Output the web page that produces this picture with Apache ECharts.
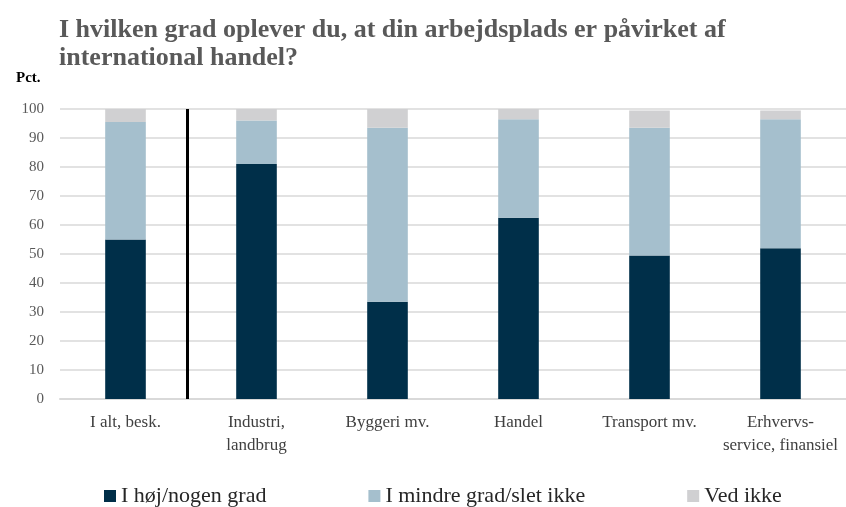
<!DOCTYPE html>
<html>
<head>
<meta charset="utf-8">
<script src="https://cdn.jsdelivr.net/npm/echarts@6/dist/echarts.min.js"></script>
<style>
  html, body { margin: 0; padding: 0; background: #fff; }
  #chart { width: 846px; height: 507px; }
</style>
</head>
<body>
<div id="chart"></div>
<script>
  const categories = ['I alt, besk.', 'Industri,\nlandbrug', 'Byggeri mv.', 'Handel', 'Transport mv.', 'Erhvervs-\nservice, finansiel']
  const hoej = [55, 81, 33.5, 62.5, 49.5, 52]
  const mindre = [40.5, 15, 60, 34, 44, 44.5]
  const vedIkke = [4.5, 4, 6.5, 3.5, 6, 3]
  const yTicks = [0, 10, 20, 30, 40, 50, 60, 70, 80, 90, 100]

  const serif = '"Liberation Serif", "DejaVu Serif", serif'

  const chart = echarts.init(document.getElementById('chart'))
  chart.setOption({
    animation: false,
    title: [
      {
        text: 'I hvilken grad oplever du, at din arbejdsplads er påvirket af\ninternational handel?',
        left: 54,
        top: 11,
        textStyle: { fontFamily: serif, fontWeight: 'bold', fontSize: 26, color: '#595959', lineHeight: 28 }
      },
      {
        text: 'Pct.',
        left: 11,
        top: 66,
        textStyle: { fontFamily: serif, fontWeight: 'bold', fontSize: 15, color: '#000' }
      }
    ],
    legend: {
      top: 480,
      left: 99,
      itemWidth: 12,
      itemHeight: 12,
      itemGap: 102,
      icon: 'rect',
      textStyle: { fontFamily: serif, fontSize: 22, color: '#262626' },
      data: ['I høj/nogen grad', 'I mindre grad/slet ikke', 'Ved ikke']
    },
    grid: { left: 60, right: 0, top: 109, bottom: 108 },
    xAxis: [
      {
        type: 'category',
        data: categories,
        axisLine: { lineStyle: { color: '#d9d9d9', width: 2 } },
        axisTick: { show: false },
        axisLabel: { fontFamily: serif, fontSize: 17, color: '#404040', margin: 12, lineHeight: 23, interval: 0 }
      },
      { type: 'value', min: -0.5, max: categories.length - 0.5, show: false }
    ],
    yAxis: {
      type: 'value',
      min: yTicks[0],
      max: yTicks[yTicks.length - 1],
      interval: 10,
      axisLine: { show: false },
      axisTick: { show: false },
      axisLabel: { fontFamily: serif, fontSize: 15, color: '#595959', margin: 16 },
      splitLine: { lineStyle: { color: '#d9d9d9', width: 1.5 } }
    },
    series: [
      { name: 'I høj/nogen grad', type: 'bar', stack: 'a', barWidth: '31%', data: hoej, itemStyle: { color: '#002f49' } },
      { name: 'I mindre grad/slet ikke', type: 'bar', stack: 'a', data: mindre, itemStyle: { color: '#a5bfcd' } },
      { name: 'Ved ikke', type: 'bar', stack: 'a', data: vedIkke, itemStyle: { color: '#d0d0d2' } },
      {
        type: 'line',
        xAxisIndex: 1,
        data: [],
        silent: true,
        markLine: {
          symbol: 'none',
          silent: true,
          label: { show: false },
          lineStyle: { color: '#000', width: 3, type: 'solid' },
          data: [{ xAxis: 0.47 }]
        }
      }
    ]
  })
</script>
</body>
</html>
